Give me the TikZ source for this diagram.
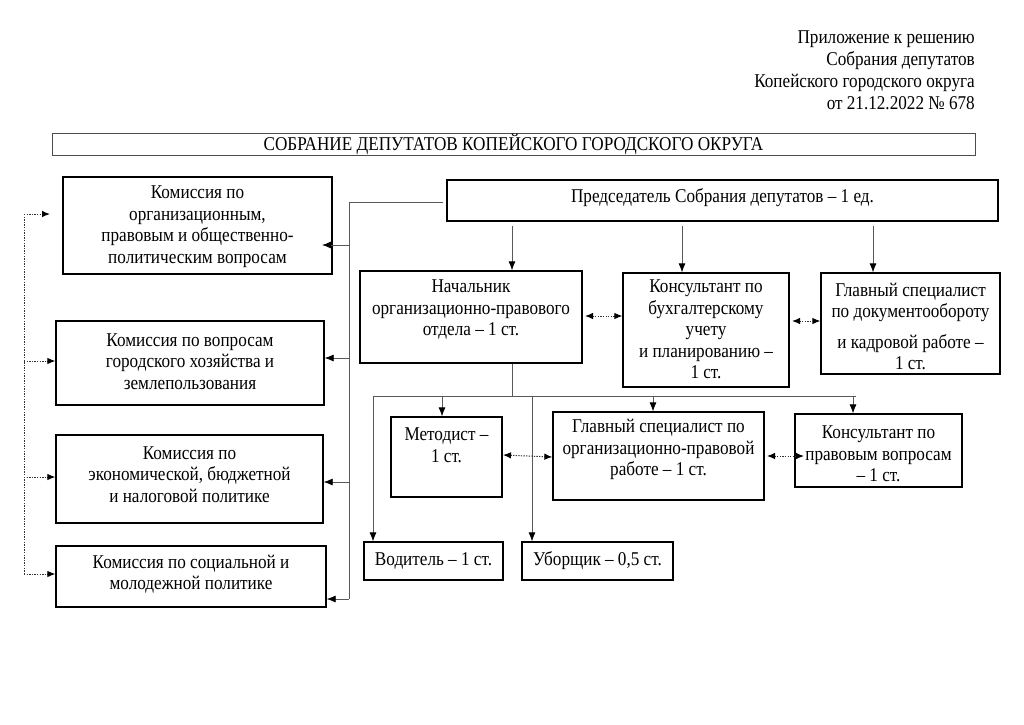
\documentclass[tikz,border=0pt]{standalone}
\usepackage{fontspec}
\setmainfont{Liberation Serif}[FakeStretch=0.88]
\usetikzlibrary{arrows.meta}
\begin{document}
\begin{tikzpicture}[x=1pt,y=-1pt,
  box/.style={draw=black,line width=1.3pt,inner sep=0pt},
  tbox/.style={draw=black!70,line width=0.8pt,inner sep=0pt},
  txt/.style={align=center,inner sep=0pt,font=\fontsize{19.5}{21.5}\selectfont},
  conn/.style={draw=black!65,line width=0.8pt},
  arr/.style={conn,-{Latex[length=9pt,width=7pt,color=black]}},
  dots/.style={draw=black!80,line width=1pt,dash pattern=on 1.3pt off 1.3pt},
  darr/.style={dots,-{Latex[length=8pt,width=6.5pt,color=black]}},
  ddarr/.style={dots,{Latex[length=8pt,width=6.5pt,color=black]}-{Latex[length=8pt,width=6.5pt,color=black]}},
]
\useasboundingbox[fill=white] (0,0) rectangle (1024,724);

% header
\node[txt,align=right,anchor=east] (hdr) at (975,70) {Приложение к решению\\[0.5pt]Собрания депутатов\\[0.5pt]Копейского городского округа\\[0.5pt]от 21.12.2022 № 678};

% title
\node[tbox,minimum width=923pt,minimum height=22pt] (title) at (513.5,144) {};
\node[txt] (titlet) at (513.5,144.5) {СОБРАНИЕ ДЕПУТАТОВ КОПЕЙСКОГО ГОРОДСКОГО ОКРУГА};

% chairman
\node[box,minimum width=551pt,minimum height=41pt] (ch) at (722.5,200.5) {};
\node[txt] (cht) at (722.5,197.5) {Председатель Собрания депутатов – 1 ед.};

% second row
\node[box,minimum width=222pt,minimum height=92pt] (nach) at (471,317) {};
\node[txt] (nacht) at (471,309.5) {Начальник\\организационно-правового\\отдела – 1 ст.};
\node[box,minimum width=166pt,minimum height=114pt] (kons) at (706,330) {};
\node[txt] (konst) at (706,329.5) {Консультант по\\бухгалтерскому\\учету\\и планированию –\\1 ст.};
\node[box,minimum width=179pt,minimum height=101pt] (glavd) at (910.5,323.5) {};
\node[txt] (glavdt) at (910.5,326.5) {Главный специалист\\по документообороту\\[9pt]и кадровой работе –\\1 ст.};

% third row
\node[box,minimum width=111pt,minimum height=80pt] (metod) at (446.5,457) {};
\node[txt] (metodt) at (446.5,445) {Методист –\\1 ст.};
\node[box,minimum width=211pt,minimum height=88pt] (glavo) at (658.5,456) {};
\node[txt] (glavot) at (658.5,449.5) {Главный специалист по\\организационно-правовой\\работе – 1 ст.};
\node[box,minimum width=167pt,minimum height=73pt] (konsp) at (878.5,450.5) {};
\node[txt] (konspt) at (878.5,454) {Консультант по\\правовым вопросам\\– 1 ст.};

% fourth row
\node[box,minimum width=139pt,minimum height=38pt] (vod) at (433.5,561) {};
\node[txt] (vodt) at (433.5,560.5) {Водитель – 1 ст.};
\node[box,minimum width=151pt,minimum height=38pt] (ubor) at (597.5,561) {};
\node[txt] (ubort) at (597.5,561) {Уборщик – 0,5 ст.};

% commissions
\node[box,minimum width=269pt,minimum height=97pt] (k1) at (197.5,225.5) {};
\node[txt] (k1t) at (197.5,226.5) {Комиссия по\\организационным,\\правовым и общественно-\\политическим вопросам};
\node[box,minimum width=268pt,minimum height=84pt] (k2) at (190,363) {};
\node[txt] (k2t) at (190,361.5) {Комиссия по вопросам\\городского хозяйства и\\землепользования};
\node[box,minimum width=267pt,minimum height=88pt] (k3) at (189.5,479) {};
\node[txt] (k3t) at (189.5,474.5) {Комиссия по\\экономической, бюджетной\\и налоговой политике};
\node[box,minimum width=270pt,minimum height=61pt] (k4) at (191,576.5) {};
\node[txt] (k4t) at (191,574) {Комиссия по социальной и\\молодежной политике};

% coordinates
\coordinate (xa) at (512,0);
\coordinate (xb) at (682,0);
\coordinate (xc) at (873,0);
\coordinate (bus) at (512,396);
\coordinate (busl) at (373,396);
\coordinate (busr) at (856,396);
\coordinate (trtop) at (349,202);
\coordinate (trbot) at (349,599);
\coordinate (ltop) at (24,214);
\coordinate (lbot) at (24,574);

% chairman -> second row
\draw[arr] ([yshift=-4pt]ch.south -| xa) -- (nach.north -| xa);
\draw[arr] ([yshift=-4pt]ch.south -| xb) -- (kons.north -| xb);
\draw[arr] ([yshift=-4pt]ch.south -| xc) -- (glavd.north -| xc);

% nach -> bus
\draw[conn] (nach.south -| xa) -- (bus);
\draw[conn] (busl) -- (busr);
\draw[arr] (busl) -- (vod.north -| busl);
\draw[arr] (442,396) -- (metod.north -| 442,0);
\draw[arr] (532,396) -- (ubor.north -| 532,0);
\draw[arr] (653,396) -- (glavo.north -| 653,0);
\draw[arr] (853,396) -- (konsp.north -| 853,0);

% dotted links
\draw[ddarr] (585,316) -- (kons.west |- 0,316);
\draw[ddarr] (792,321) -- (glavd.west |- 0,321);
\draw[ddarr] (503,455) -- (glavo.west |- 0,457);
\draw[ddarr] (767,456) -- (804,456);

% right trunk to commissions
\draw[conn] ([xshift=-3pt]ch.west |- trtop) -- (trtop) -- (trbot);
\draw[arr] (349,245) -- (322,245);
\draw[arr] (349,358) -- (k2.east |- 0,358);
\draw[arr] (trbot) -- (k4.east |- trbot);
\draw[arr] (349,482) -- (k3.east |- 0,482);

% left dotted trunk
\draw[dots] (ltop) -- (lbot);
\draw[darr] (ltop) -- (50,214);
\draw[darr] (24,361) -- (k2.west |- 0,361);
\draw[darr] (24,477) -- (k3.west |- 0,477);
\draw[darr] (lbot) -- (k4.west |- lbot);
\end{tikzpicture}
\end{document}
